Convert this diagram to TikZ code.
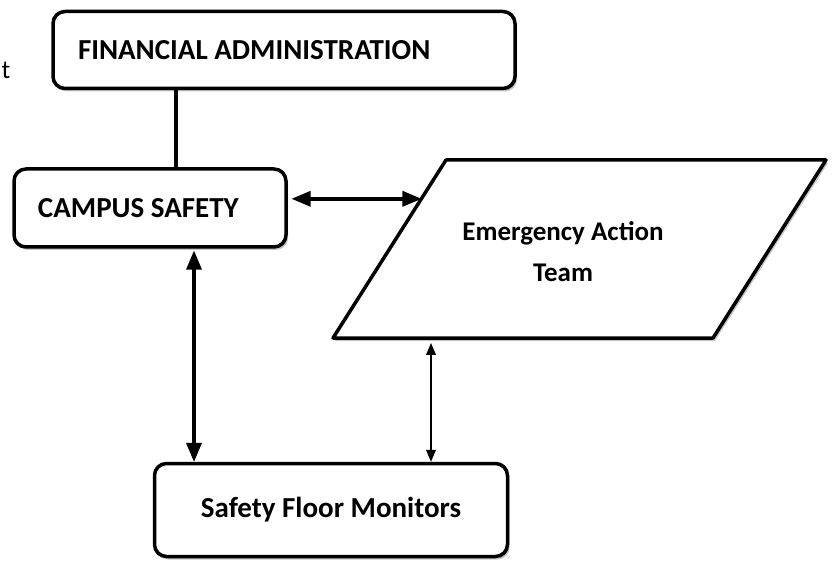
\documentclass[tikz,border=0pt]{standalone}
\usepackage{fontspec}
\setmainfont{Carlito}
\usepackage{tikz}
\usetikzlibrary{arrows,shadows,calc}

\begin{document}
\begin{tikzpicture}[x=1pt,y=-1pt,>=triangle 45,line join=round]

        \tikzstyle{box}=[draw=black,line width=3.5pt,fill=white,rounded corners=12pt,inner sep=0pt,
                         drop shadow={shadow xshift=2pt,shadow yshift=-3pt,fill=black!22,opacity=1},
                         font=\fontsize{29}{35}\selectfont\bfseries]
        \tikzstyle{link}=[line width=3.5pt]
        \tikzstyle{thin}=[line width=1.8pt]

        \useasboundingbox (0,0) rectangle (835,561);

        % stray letter from the page
        \node (t) at (6,70) {\fontsize{26}{30}\selectfont t};

        \node[box,minimum width=462pt,minimum height=77pt] (fin) at (284,50)
              {\makebox[458pt][l]{\hspace*{23pt}FINANCIAL ADMINISTRATION}};
        \node[box,minimum width=272pt,minimum height=78pt] (cs) at (150,208)
              {\makebox[268pt][l]{\hspace*{22pt}\raisebox{-4pt}{CAMPUS SAFETY}}};
        \node[box,minimum width=353pt,minimum height=93pt] (sfm) at (331,510)
              {\raisebox{-3pt}{Safety Floor Monitors}};

        % parallelogram
        \coordinate (p1) at (446,160);
        \coordinate (p2) at (826,160);
        \coordinate (p3) at (713,338);
        \coordinate (p4) at (333,338);
        \fill[black!22] ([shift={(2,3)}]p1) -- ([shift={(2,3)}]p2) -- ([shift={(2,3)}]p3) -- ([shift={(2,3)}]p4) -- cycle;
        \draw[fill=white,line width=3.5pt] (p1) -- (p2) -- (p3) -- (p4) -- cycle;
        \node[font=\fontsize{27}{41}\selectfont\bfseries,align=center] (eat) at (563,252)
              {Emergency Action\\Team};

        \coordinate (e1) at ($(p4)!0.782!(p1)$);
        \coordinate (e2) at (431,343);

        \path[link]
        (fin.south -| 176,0) edge[-] (cs.north -| 176,0)
        ;
        \draw[link,<->] ([xshift=4pt]cs.east |- e1) -- (e1);
        \draw[link,<->] ([yshift=-2pt]cs.south -| 194,0) -- (sfm.north -| 194,0);
        \draw[thin,<->] (e2) -- (sfm.north -| e2);

\end{tikzpicture}
\end{document}
